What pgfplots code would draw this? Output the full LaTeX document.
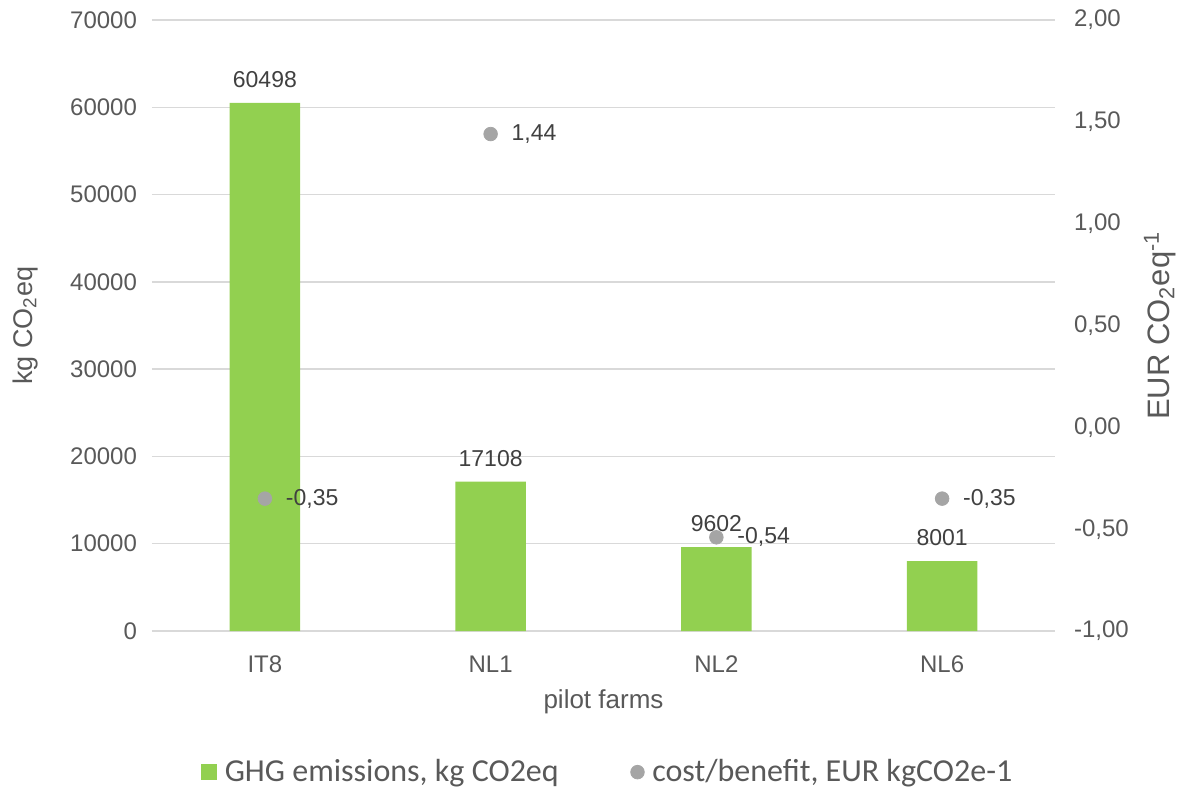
\documentclass[border=0pt]{standalone}
\usepackage{pgfplots}
\pgfplotsset{compat=1.18}
\usepackage{fontspec}
\setmainfont{Liberation Sans}
\newfontfamily\legendfont{Carlito}
\definecolor{bargreen}{HTML}{92D050}
\definecolor{dotgray}{HTML}{A5A5A5}
\definecolor{txt}{HTML}{595959}
\definecolor{lbl}{HTML}{404040}
\definecolor{gridc}{HTML}{D9D9D9}

\pgfplotstableread{
idx farm ghg
0 IT8 60498
1 NL1 17108
2 NL2 9602
3 NL6 8001
}\ghgtable

\pgfplotstableread{
idx farm cb
0 IT8 -0.35
1 NL1 1.44
2 NL2 -0.54
3 NL6 -0.35
}\cbtable

\begin{document}
\begin{tikzpicture}
\useasboundingbox (-76pt,-78.5pt) rectangle (513pt,315.5pt);
\pgfplotsset{
  common/.style={
    scale only axis, width=451.5pt, height=305.5pt,
    xmin=-0.5, xmax=3.5,
    axis line style={draw=none}, major tick length=0pt,
    tick label style={font=\fontsize{12}{14}\selectfont, text=txt},
    /pgf/number format/assume math mode=true,
    clip=false,
  }
}
% left axis: emissions as bars
\begin{axis}[common,
  ymin=0, ymax=70000, ytick distance=10000,
  scaled y ticks=false,
  /pgf/number format/1000 sep={},
  xtick={0,1,2,3}, xticklabels={IT8,NL1,NL2,NL6},
  yticklabel style={xshift=-4pt},
  xticklabel style={yshift=-9pt},
  ymajorgrids, grid style={gridc, line width=0.7pt},
  ylabel={kg CO\textsubscript{2}eq},
  ylabel style={at={(axis description cs:-0.1406,0.5)}, anchor=center, font=\fontsize{13.5}{15}\selectfont, text=txt},
  xlabel={pilot farms},
  xlabel style={at={(axis description cs:0.5,-0.116)}, anchor=center, font=\fontsize{13}{15}\selectfont, text=txt},
]
\addplot[ybar, bar width=0.313, fill=bargreen, draw=none,
  nodes near coords,
  every node near coord/.append style={font=\fontsize{11.5}{13}\selectfont, text=lbl, yshift=4pt},
] table[x=idx, y=ghg] {\ghgtable};
\end{axis}
% right axis: cost/benefit as dots
\begin{axis}[common,
  ymin=-1, ymax=2, ytick distance=0.5,
  axis y line*=right, axis x line=none,
  yticklabel style={xshift=6pt, /pgf/number format/.cd, use comma, fixed, fixed zerofill, precision=2},
  ylabel={EUR CO\textsubscript{2}eq\textsuperscript{-1}},
  ylabel style={at={(axis description cs:1.116,0.5)}, anchor=center, font=\fontsize{15.5}{17}\selectfont, text=txt},
  legend style={at={(axis description cs:0.506,-0.231)}, anchor=center, draw=none, fill=none,
    legend columns=2, font=\legendfont\fontsize{16}{18}\selectfont, text=txt,
    /tikz/every odd column/.append style={column sep=2pt},
    /tikz/every even column/.append style={column sep=34pt}},
  legend cell align=left,
]
\addlegendimage{only marks, mark=square*, mark size=3.8pt, mark options={fill=bargreen, draw=bargreen}}
\addlegendentry{GHG emissions, kg CO2eq}
\addplot[only marks, mark=*, mark size=3.4pt, mark options={fill=dotgray, draw=dotgray},
  nodes near coords={\pgfmathprintnumber[use comma, fixed, fixed zerofill, precision=2]{\pgfplotspointmeta}},
  every node near coord/.append style={font=\fontsize{11.5}{13}\selectfont, text=lbl, anchor=west, xshift=7pt},
] table[x=idx, y=cb] {\cbtable};
\addlegendentry{cost/benefit, EUR kgCO2e-1}
\end{axis}
\end{tikzpicture}
\end{document}
